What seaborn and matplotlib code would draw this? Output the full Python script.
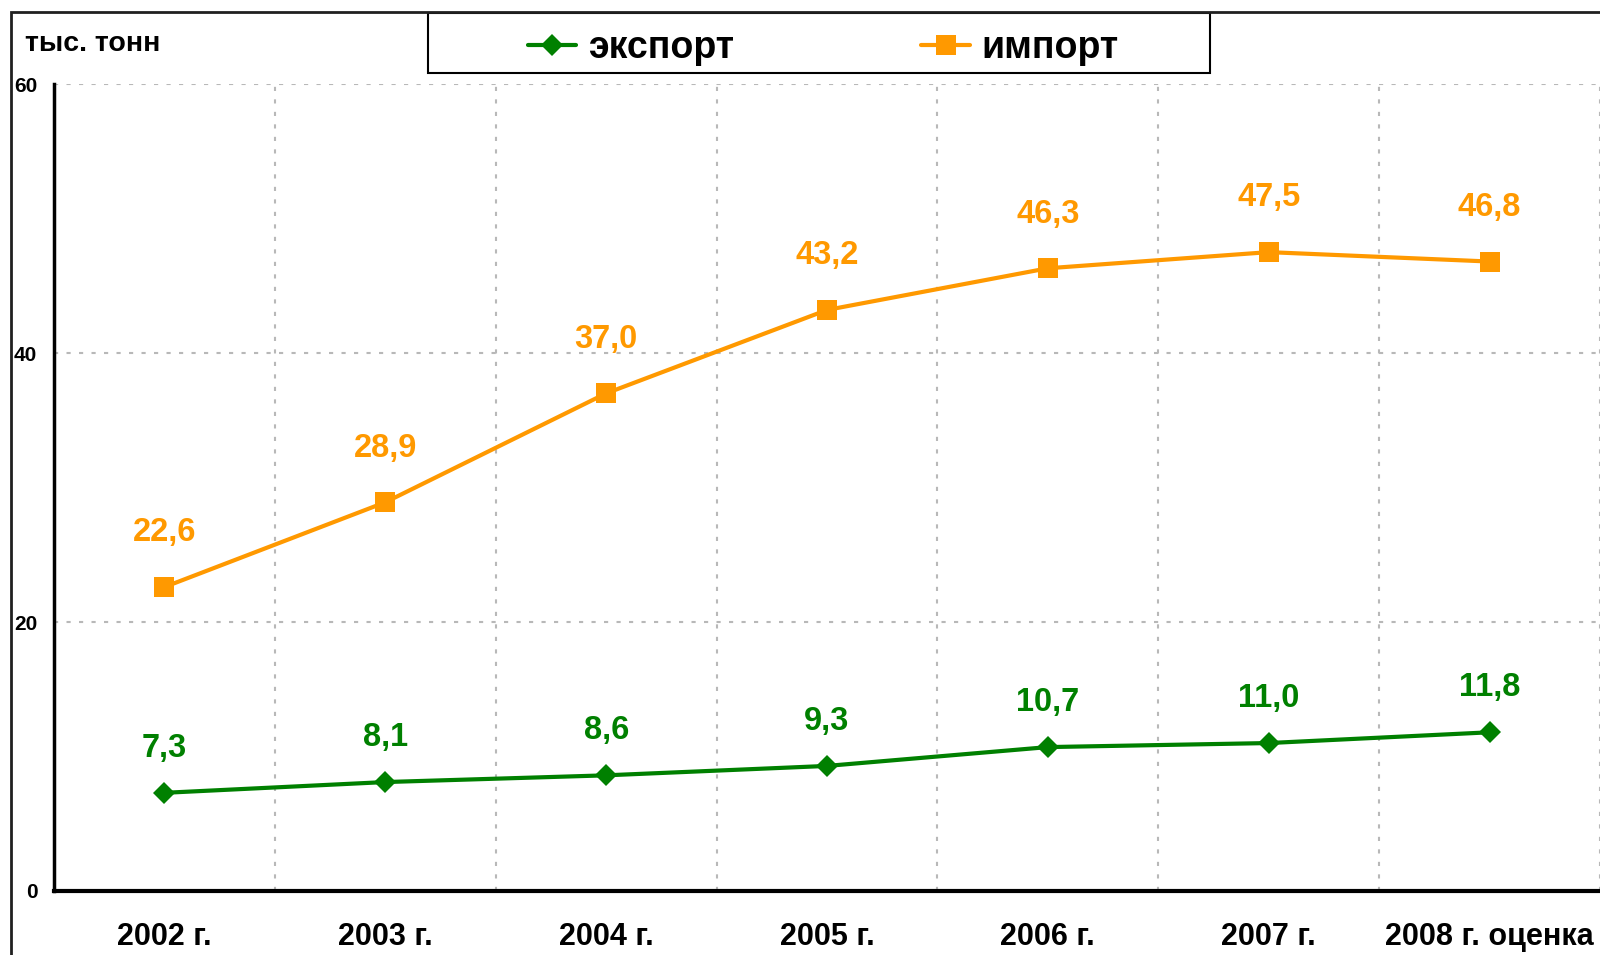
import numpy as np
import pandas as pd
import matplotlib
matplotlib.use('Agg')
import matplotlib.pyplot as plt
from matplotlib.patches import Rectangle
import seaborn as sns

years = ['2002 г.', '2003 г.', '2004 г.', '2005 г.', '2006 г.', '2007 г.', '2008 г. оценка']
export = [7.3, 8.1, 8.6, 9.3, 10.7, 11.0, 11.8]
imports = [22.6, 28.9, 37.0, 43.2, 46.3, 47.5, 46.8]
series_names = ['экспорт', 'импорт']
colors = {'экспорт': '#008000', 'импорт': '#FF9900'}

sns.set_style('white')
plt.rcParams['font.family'] = ['Liberation Sans', 'DejaVu Sans']
plt.rcParams['font.weight'] = 'bold'
plt.rcParams['text.color'] = 'black'
plt.rcParams['xtick.color'] = 'black'
plt.rcParams['ytick.color'] = 'black'
plt.rcParams['axes.edgecolor'] = 'black'

pos = np.arange(len(years))
df = pd.concat([
    pd.DataFrame({'pos': pos, 'value': export, 'series': 'экспорт'}),
    pd.DataFrame({'pos': pos, 'value': imports, 'series': 'импорт'}),
])

fig = plt.figure(figsize=(16, 9.55), dpi=100)
ax = fig.add_axes([54 / 1600, 1 - 891 / 955, 1 - 54 / 1600, (891 - 84) / 955])

sns.lineplot(data=df, x='pos', y='value', hue='series', style='series',
             hue_order=series_names, style_order=series_names,
             palette=colors, markers={'экспорт': 'D', 'импорт': 's'},
             dashes=False, linewidth=3, markersize=15, markeredgewidth=0, ax=ax)
# diamonds a bit smaller than squares
for ln in ax.lines:
    if ln.get_marker() == 'D':
        ln.set_markersize(11.5)

# value labels above points
for vals, name, off in [(export, 'экспорт', 32), (imports, 'импорт', 39)]:
    for x, v in zip(pos, vals):
        ax.annotate(f'{v:.1f}'.replace('.', ','), (x, v), xytext=(0, off),
                    textcoords='offset points', ha='center', va='center',
                    fontsize=23.5, fontweight='bold', color=colors[name])

ax.set_xlim(-0.5, len(years) - 0.5)
ax.set_ylim(0, 60)
ax.set_yticks([0, 20, 40, 60])
ax.set_yticklabels(['0', '20', '40', '60'], fontsize=15, fontweight='bold')
ax.set_xticks(pos)
ax.set_xticklabels(years, fontsize=22, fontweight='bold')
ax.set_xticks(np.arange(-0.5, len(years)), minor=True)
ax.tick_params(axis='x', which='major', length=0, pad=22)
ax.tick_params(axis='x', which='minor', length=8, width=2.5, direction='out')
ax.tick_params(axis='y', length=7, width=2, direction='out', pad=5)
ax.grid(False)
ax.grid(True, which='minor', axis='x', color='#b8b8b8', linestyle=(0, (2, 4)), linewidth=1.5)
ax.grid(True, which='major', axis='y', color='#b8b8b8', linestyle=(0, (2, 4)), linewidth=1.5)
ax.set_xlabel('')
ax.set_ylabel('')
for s in ['top', 'right']:
    ax.spines[s].set_visible(False)
ax.spines['left'].set_linewidth(2.5)
ax.spines['bottom'].set_linewidth(3)

handles, labels = ax.get_legend_handles_labels()
ax.get_legend().remove()
for h in handles:
    if h.get_marker() == 'D':
        h.set_markersize(11.5)

# legend box
fig.patches.append(Rectangle((428 / 1600, 1 - 73 / 955), (1210 - 428) / 1600, 60 / 955,
                             transform=fig.transFigure, fill=False,
                             edgecolor='black', linewidth=1.5))
leg = fig.legend(handles, labels, loc='center', ncol=2,
                 bbox_to_anchor=(823 / 1600, 1 - 48 / 955),
                 prop={'size': 27, 'weight': 'bold'}, frameon=False,
                 handlelength=1.3, handletextpad=0.3, columnspacing=5.0)

fig.text(25 / 1600, 1 - 44 / 955, 'тыс. тонн', fontsize=20.5, fontweight='bold', va='center')

# outer chart frame
fig.patches.append(Rectangle((11 / 1600, -0.1), 1.2, 1.1 - 12 / 955,
                             transform=fig.transFigure, fill=False,
                             edgecolor='#202020', linewidth=2))

fig.savefig('out.png', dpi=100)
